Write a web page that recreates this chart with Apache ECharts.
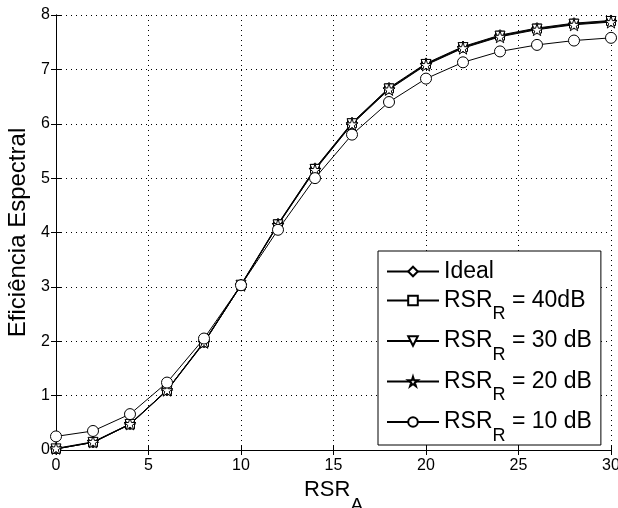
<!DOCTYPE html>
<html>
<head>
<meta charset="utf-8">
<script src="https://cdn.jsdelivr.net/npm/echarts@6/dist/echarts.min.js"></script>
<style>html,body{margin:0;padding:0;background:#fff}#c{width:618px;height:508px}</style>
</head>
<body>
<div id="c"></div>
<script>
const xValues = [0, 2, 4, 6, 8, 10, 12, 14, 16, 18, 20, 22, 24, 26, 28, 30];
const ideal = [0.02, 0.14, 0.48, 1.10, 1.99, 3.04, 4.16, 5.18, 6.02, 6.66, 7.11, 7.42, 7.63, 7.76, 7.85, 7.90];
const rsr40 = [0.02, 0.14, 0.47, 1.10, 1.98, 3.03, 4.15, 5.17, 6.01, 6.65, 7.10, 7.41, 7.62, 7.75, 7.84, 7.89];
const rsr30 = [0.02, 0.14, 0.47, 1.09, 1.97, 3.03, 4.14, 5.16, 6.00, 6.64, 7.09, 7.40, 7.61, 7.74, 7.83, 7.88];
const rsr20 = [0.03, 0.15, 0.48, 1.10, 1.98, 3.03, 4.14, 5.15, 5.99, 6.63, 7.08, 7.39, 7.60, 7.73, 7.82, 7.87];
const rsr10 = [0.25, 0.35, 0.66, 1.24, 2.05, 3.03, 4.05, 5.00, 5.80, 6.40, 6.83, 7.13, 7.33, 7.45, 7.53, 7.58];
const seriesNames = ['Ideal', 'RSR_R = 40dB', 'RSR_R = 30 dB', 'RSR_R = 20 dB', 'RSR_R = 10 dB'];
const xTicks = [0, 5, 10, 15, 20, 25, 30];
const yTicks = [0, 1, 2, 3, 4, 5, 6, 7, 8];

const FONT = 'Liberation Sans';
const STAR = 'path://M50,0 L61.2,34.5 L97.6,34.5 L68.2,55.9 L79.4,90.5 L50,69.1 L20.6,90.5 L31.8,55.9 L2.4,34.5 L38.8,34.5 Z';
const symbols = ['diamond', 'rect', 'triangle', STAR, 'circle'];
const rotates = [0, 0, 180, 0, 0];
const sizes = [11, 9, 10, 12, 11];
const dataSets = [ideal, rsr40, rsr30, rsr20, rsr10];

const chart = echarts.init(document.getElementById('c'), null, {renderer: 'canvas'});

function pairs(arr) { return xValues.map((x, i) => [x, arr[i]]); }

const series = seriesNames.map((name, k) => ({
  name: name,
  type: 'line',
  data: pairs(dataSets[k]),
  symbol: symbols[k],
  symbolRotate: rotates[k],
  symbolSize: sizes[k],
  showAllSymbol: true,
  lineStyle: {color: '#000', width: 1},
  itemStyle: {color: '#fff', borderColor: '#000', borderWidth: 1},
  emphasis: {disabled: true},
  animation: false,
  z: 3
}));

const axisCommon = {
  axisLine: {show: true, lineStyle: {color: '#000', width: 1}},
  axisTick: {show: true, inside: true, length: 5, lineStyle: {color: '#000'}},
};

const subRich = (main, sub, L) => ({
  m: {fontSize: main, fontFamily: FONT, color: '#000', lineHeight: 22, verticalAlign: 'middle'},
  s: {fontSize: sub, fontFamily: FONT, color: '#000', lineHeight: L, verticalAlign: 'bottom'}
});

chart.setOption({
  animation: false,
  backgroundColor: '#fff',
  grid: {left: 56, right: 7, top: 15, bottom: 58, containLabel: false, outerBoundsMode: 'none'},
  xAxis: [{
    type: 'value', min: xTicks[0], max: xTicks[xTicks.length - 1], interval: xTicks[1] - xTicks[0],
    position: 'bottom',
    name: '{m|RSR}{s|A}', nameLocation: 'middle', nameGap: 8,
    nameTextStyle: {rich: subRich(22, 19, 50)},
    ...axisCommon,
    axisLabel: {fontSize: 16, fontFamily: FONT, color: '#000', margin: 8},
    splitLine: {show: true, lineStyle: {color: '#000', type: [1, 4], width: 1}}
  }, {
    type: 'value', min: xTicks[0], max: xTicks[xTicks.length - 1], interval: xTicks[1] - xTicks[0],
    position: 'top',
    ...axisCommon,
    axisLabel: {show: false},
    splitLine: {show: false}
  }],
  yAxis: [{
    type: 'value', min: yTicks[0], max: yTicks[yTicks.length - 1], interval: yTicks[1] - yTicks[0],
    position: 'left',
    name: 'Eficiência Espectral', nameLocation: 'middle', nameGap: 23,
    nameTextStyle: {fontSize: 24, fontFamily: FONT, color: '#000'},
    ...axisCommon,
    axisLabel: {fontSize: 16, fontFamily: FONT, color: '#000', margin: 6},
    splitLine: {show: true, lineStyle: {color: '#000', type: [1, 4], width: 1}}
  }, {
    type: 'value', min: yTicks[0], max: yTicks[yTicks.length - 1], interval: yTicks[1] - yTicks[0],
    position: 'right',
    ...axisCommon,
    axisLabel: {show: false},
    splitLine: {show: false}
  }],
  legend: {
    data: seriesNames,
    orient: 'vertical',
    left: 378, top: 251,
    backgroundColor: '#fff',
    borderColor: '#000', borderWidth: 1,
    padding: [9, 9, 0, 8],
    itemWidth: 52, itemHeight: 12, itemGap: 6,
    selectedMode: false,
    formatter: function (name) {
      if (name.indexOf('RSR_R') === 0) {
        return '{m|RSR}{s|R}{m|' + name.slice(5) + '}';
      }
      return '{m|' + name + '}';
    },
    textStyle: {
      fontSize: 23, fontFamily: FONT, color: '#000',
      rich: subRich(23, 18, 46)
    }
  },
  series: series
});
</script>
</body>
</html>
